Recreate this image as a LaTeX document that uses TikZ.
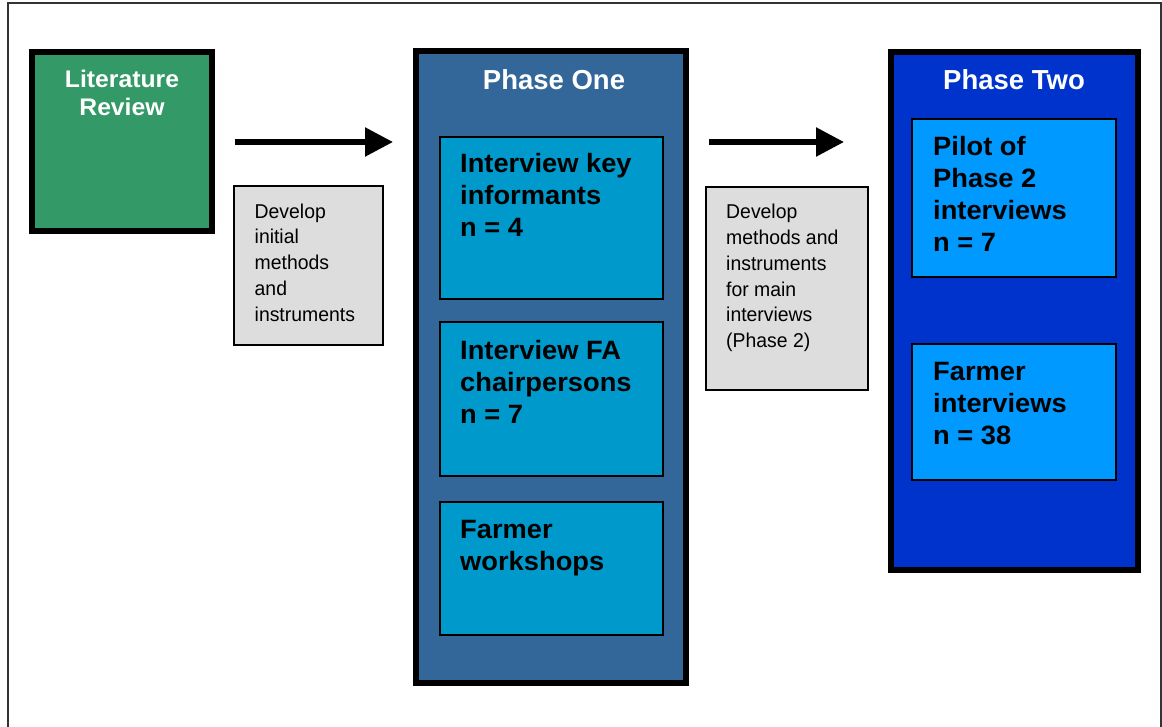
\documentclass[tikz,border=0pt]{standalone}
\usepackage{fontspec}
\setmainfont{Liberation Sans}
\newfontfamily\titlefont{Liberation Sans}
\newfontfamily\litfont[FakeStretch=1.03]{Liberation Sans}
\newfontfamily\innerfont[FakeStretch=1.03]{Liberation Sans}
\newfontfamily\notefont[FakeStretch=0.97]{Liberation Sans}
\usetikzlibrary{arrows.meta}

\definecolor{litgreen}{HTML}{339966}
\definecolor{phoneblue}{HTML}{336699}
\definecolor{phonebox}{HTML}{0099CC}
\definecolor{phtwoblue}{HTML}{0033CC}
\definecolor{phtwobox}{HTML}{0099FF}
\definecolor{notegrey}{HTML}{DDDDDD}
\definecolor{framegrey}{HTML}{333333}

\tikzset{
  bigbox/.style={draw=black, line width=6pt, inner sep=0pt, outer sep=0pt},
  subbox/.style={draw=black, line width=1.5pt, inner sep=0pt, outer sep=0pt},
  notebox/.style={draw=black, line width=1.3pt, fill=notegrey, inner sep=0pt, outer sep=0pt},
  titletext/.style={anchor=north, inner sep=0pt, text=white, align=center,
    font=\titlefont\bfseries\fontsize{27.5}{32}\selectfont},
  littext/.style={anchor=north, inner sep=0pt, text=white, align=center,
    font=\litfont\bfseries\fontsize{24}{28.5}\selectfont},
  subtext/.style={anchor=north west, inner sep=0pt, text=black, align=left,
    font=\innerfont\bfseries\fontsize{26.5}{32}\selectfont},
  notetext/.style={anchor=north west, inner sep=0pt, text=black, align=left,
    font=\notefont\fontsize{20}{25.8}\selectfont},
  flowarrow/.style={line width=5.5pt, -{Triangle[length=28pt,width=28pt]}}
}

\begin{document}
\begin{tikzpicture}[x=1pt,y=-1pt]
\useasboundingbox (0,0) rectangle (1162,727);

% surrounding frame (open at the bottom)
\draw[framegrey, line width=1.4pt] (8,730) -- (8,3) -- (1161,3) -- (1161,730);

% literature review
\node[bigbox, fill=litgreen, minimum width=180pt, minimum height=179pt] (lit) at (122,141.5) {};
\node[littext] (littitle) at (122,69.8) {Literature\\Review};

% phase one column
\node[bigbox, fill=phoneblue, minimum width=270pt, minimum height=632pt] (p1) at (551,367) {};
\node[titletext] (p1title) at (554,69.3) {Phase One};
\node[subbox, fill=phonebox, minimum width=223pt, minimum height=162pt] (p1a) at (551.5,218) {};
\node[subbox, fill=phonebox, minimum width=223pt, minimum height=154pt] (p1b) at (551.5,399) {};
\node[subbox, fill=phonebox, minimum width=223pt, minimum height=133pt] (p1c) at (551.5,568.5) {};
\node[subtext] (p1atext) at (460,153.5) {Interview key\\informants\\n = 4};
\node[subtext] (p1btext) at (460,340.5) {Interview FA\\chairpersons\\n = 7};
\node[subtext] (p1ctext) at (460,520.5) {Farmer\\workshops};

% phase two column
\node[bigbox, fill=phtwoblue, minimum width=247pt, minimum height=518pt] (p2) at (1014.5,311) {};
\node[titletext] (p2title) at (1014,69.3) {Phase Two};
\node[subbox, fill=phtwobox, minimum width=204pt, minimum height=158pt] (p2a) at (1014,198) {};
\node[subbox, fill=phtwobox, minimum width=204pt, minimum height=136pt] (p2b) at (1014,412) {};
\node[subtext] (p2atext) at (933,136.5) {Pilot of\\Phase 2\\interviews\\n = 7};
\node[subtext] (p2btext) at (933,362.5) {Farmer\\interviews\\n = 38};

% notes under the arrows
\node[notebox, minimum width=149pt, minimum height=159pt] (note1) at (308.5,265.5) {};
\node[notetext] (note1text) at (254.5,203.5) {Develop\\initial\\methods\\and\\instruments};
\node[notebox, minimum width=162pt, minimum height=203pt] (note2) at (787,288.5) {};
\node[notetext] (note2text) at (726,204) {Develop\\methods and\\instruments\\for main\\interviews\\(Phase 2)};

% arrows between the stages
\coordinate (a1s) at (235,142);
\coordinate (a1e) at (393,142);
\coordinate (a2s) at (709,142);
\coordinate (a2e) at (844,142);
\draw[flowarrow] (a1s) -- (a1e);
\draw[flowarrow] (a2s) -- (a2e);
\end{tikzpicture}
\end{document}
